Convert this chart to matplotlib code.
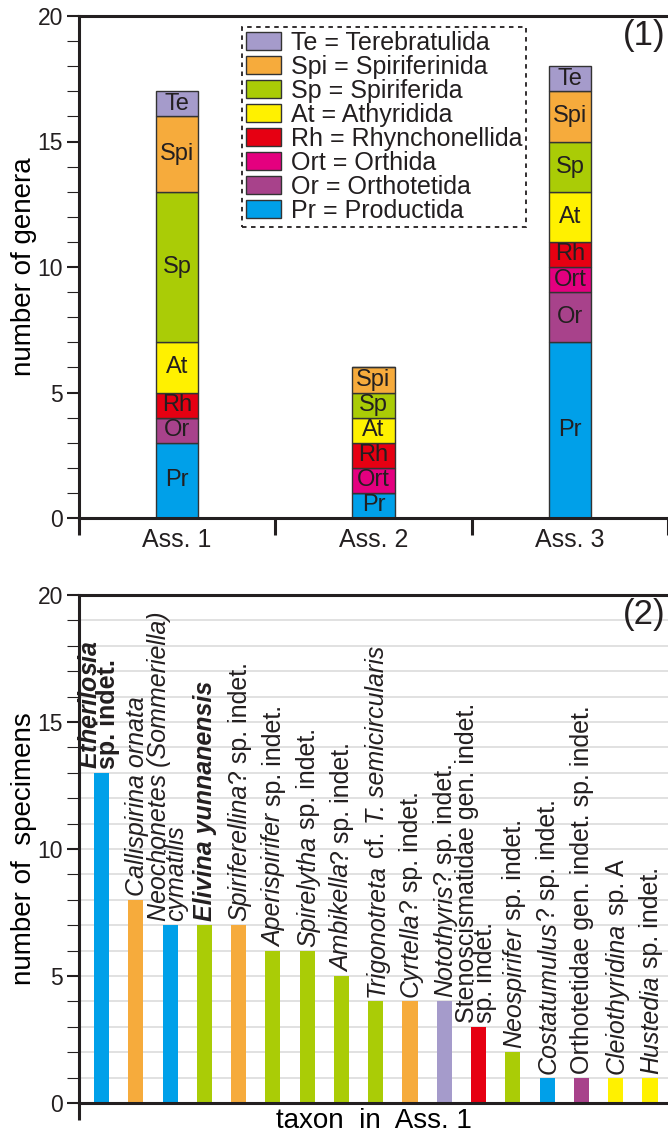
import numpy as np
import matplotlib
matplotlib.use('Agg')
import matplotlib.pyplot as plt
from matplotlib.patches import Patch
from matplotlib.transforms import offset_copy
from matplotlib.ticker import MultipleLocator

# ---------------- data ----------------
assemblages = ['Ass. 1', 'Ass. 2', 'Ass. 3']
order_abbr = ['Pr', 'Or', 'Ort', 'Rh', 'At', 'Sp', 'Spi', 'Te']          # stacking order bottom -> top
order_full = ['Productida', 'Orthotetida', 'Orthida', 'Rhynchonellida',
              'Athyridida', 'Spiriferida', 'Spiriferinida', 'Terebratulida']
order_colors = ['#00A0E9', '#A8428B', '#E4007F', '#E60012',
                '#FFF100', '#AACC06', '#F6AB3C', '#A59BCB']

pr_genera = [3, 1, 7]
or_genera = [1, 0, 2]
ort_genera = [0, 1, 1]
rh_genera = [1, 1, 1]
at_genera = [2, 1, 2]
sp_genera = [6, 1, 2]
spi_genera = [3, 1, 2]
te_genera = [1, 0, 1]
genera_series = [pr_genera, or_genera, ort_genera, rh_genera,
                 at_genera, sp_genera, spi_genera, te_genera]

# taxa of Ass. 1 : label pieces (text, style, weight) per line
taxon_labels = [
    [[('Etherilosia', 'italic', 'bold')], [('sp. indet.', 'normal', 'bold')]],
    [[('Callispirina ornata', 'italic', 'normal')]],
    [[('Neochonetes (Sommeriella)', 'italic', 'normal')], [('cymatilis', 'italic', 'normal')]],
    [[('Elivina yunnanensis', 'italic', 'bold')]],
    [[('Spiriferellina', 'italic', 'normal'), ('? sp. indet.', 'normal', 'normal')]],
    [[('Aperispirifer', 'italic', 'normal'), (' sp. indet.', 'normal', 'normal')]],
    [[('Spirelytha', 'italic', 'normal'), (' sp. indet.', 'normal', 'normal')]],
    [[('Ambikella', 'italic', 'normal'), ('? sp. indet.', 'normal', 'normal')]],
    [[('Trigonotreta', 'italic', 'normal'), (' cf.', 'normal', 'normal'),
      (' T. semicircularis', 'italic', 'normal')]],
    [[('Cyrtella', 'italic', 'normal'), ('? sp. indet.', 'normal', 'normal')]],
    [[('Notothyris', 'italic', 'normal'), ('? sp. indet.', 'normal', 'normal')]],
    [[('Stenoscismatidae gen. indet.', 'normal', 'normal')], [('sp. indet.', 'normal', 'normal')]],
    [[('Neospirifer', 'italic', 'normal'), (' sp. indet.', 'normal', 'normal')]],
    [[('Costatumulus', 'italic', 'normal'), ('? sp. indet.', 'normal', 'normal')]],
    [[('Orthotetidae gen. indet. sp. indet.', 'normal', 'normal')]],
    [[('Cleiothyridina', 'italic', 'normal'), (' sp. A', 'normal', 'normal')]],
    [[('Hustedia', 'italic', 'normal'), (' sp. indet.', 'normal', 'normal')]],
]
specimen_counts = [13, 8, 7, 7, 7, 6, 6, 5, 4, 4, 4, 3, 2, 1, 1, 1, 1]
taxon_orders = ['Pr', 'Spi', 'Pr', 'Sp', 'Spi', 'Sp', 'Sp', 'Sp', 'Sp',
                'Spi', 'Te', 'Rh', 'Sp', 'Pr', 'Or', 'At', 'At']

# ---------------- style ----------------
plt.rcParams['font.family'] = ['Liberation Sans', 'DejaVu Sans']
plt.rcParams['mathtext.fontset'] = 'custom'
plt.rcParams['mathtext.it'] = 'Liberation Sans:italic:bold'
plt.rcParams['mathtext.rm'] = 'Liberation Sans:bold'
plt.rcParams['mathtext.bf'] = 'Liberation Sans:bold'
TXT = '#231F20'
plt.rcParams['text.color'] = TXT
color_of = dict(zip(order_abbr, order_colors))

W, H = 668, 1133
fig = plt.figure(figsize=(W / 100, H / 100), dpi=100)
ax1 = fig.add_axes([79 / W, 1 - 518 / H, 589 / W, 502 / H])
ax2 = fig.add_axes([79 / W, 1 - 1103 / H, 589 / W, 508 / H])


def style_axes(ax):
    ax.spines['right'].set_visible(False)
    for s in ['left', 'bottom', 'top']:
        ax.spines[s].set_linewidth(2.2)
        ax.spines[s].set_color(TXT)
    ax.set_ylim(0, 20)
    ax.yaxis.set_major_locator(MultipleLocator(5))
    ax.yaxis.set_minor_locator(MultipleLocator(1))
    ax.tick_params(axis='y', which='major', length=8.5, width=1.5, pad=3,
                   labelsize=16.5, colors=TXT)
    ax.tick_params(axis='y', which='minor', length=8.5, width=0.8, colors=TXT)


# ---------------- panel (1) ----------------
x = np.arange(len(assemblages))
bottom = np.zeros(len(assemblages))
for abbr, vals, col in zip(order_abbr, genera_series, order_colors):
    vals = np.array(vals, dtype=float)
    bars = ax1.bar(x, vals, width=0.215, bottom=bottom, color=col,
                   edgecolor='#333333', linewidth=1.0, zorder=2)
    ax1.bar_label(bars, labels=[abbr if v > 0 else '' for v in vals],
                  label_type='center', fontsize=17, color=TXT)
    bottom += vals

style_axes(ax1)
ax1.set_xlim(-0.5, 2.5)
ax1.set_xticks([-0.5, 0.5, 1.5, 2.5])
ax1.set_xticklabels([])
ax1.tick_params(axis='x', which='major', length=12, width=2.2, colors=TXT)
ax1.set_xticks(x, minor=True)
ax1.set_xticklabels(assemblages, minor=True, fontsize=18)
ax1.tick_params(axis='x', which='minor', length=0, pad=7, colors=TXT)
ax1.set_ylabel('number of genera', fontsize=20)
ax1.yaxis.set_label_coords(-0.072, 0.5)
ax1.text(0.995, 0.995, '(1)', transform=ax1.transAxes, ha='right', va='top', fontsize=25)

handles = [Patch(facecolor=c, edgecolor='#333333', linewidth=1.0) for c in order_colors][::-1]
labels = [f'{a} = {f}' for a, f in zip(order_abbr, order_full)][::-1]
leg = ax1.legend(handles, labels, loc='upper left', bbox_to_anchor=(0.2767, 0.978),
                 borderaxespad=0, fontsize=18, frameon=True, fancybox=False,
                 edgecolor=TXT, framealpha=1, handlelength=1.4, handleheight=0.68,
                 handletextpad=0.4, labelspacing=0.0, borderpad=0.15, labelcolor=TXT)
leg.get_frame().set_linestyle((0, (2.5, 2.5)))
leg.get_frame().set_linewidth(1.3)

# ---------------- panel (2) ----------------
xb = np.arange(len(specimen_counts))
ax2.bar(xb, specimen_counts, width=0.44,
        color=[color_of[o] for o in taxon_orders], zorder=2)
style_axes(ax2)
x_left = -0.656
ax2.set_xlim(x_left, 16.526)
ax2.set_axisbelow(True)
ax2.grid(axis='y', which='both', color='#DEDEDE', linewidth=1.3)
ax2.set_xticks([x_left])
ax2.set_xticklabels([])
ax2.tick_params(axis='x', which='major', length=12, width=2.2, colors=TXT)
ax2.set_ylabel('number of  specimens', fontsize=20)
ax2.yaxis.set_label_coords(-0.072, 0.5)
ax2.set_xlabel('taxon  in  Ass. 1', fontsize=20)
ax2.xaxis.set_label_coords(0.5, -0.01)
ax2.text(0.995, 0.995, '(2)', transform=ax2.transAxes, ha='right', va='top', fontsize=25)

renderer = fig.canvas.get_renderer()
FS = 18
for xi, (val, lines) in enumerate(zip(specimen_counts, taxon_labels)):
    if len(lines) == 1:
        # one line, possibly mixed styles: chain the pieces upward
        dy = 4
        for s, st, wt in lines[0]:
            tr = offset_copy(ax2.transData, fig=fig, x=8, y=dy, units='dots')
            t = ax2.text(xi, val, s, transform=tr, rotation=90, rotation_mode='anchor',
                         ha='left', va='baseline', fontsize=FS, style=st, weight=wt,
                         color=TXT, zorder=3)
            dy += t.get_window_extent(renderer).height
    else:
        # two lines in one text; a line whose style differs from the last one
        # is written with the (bold-italic) mathtext font
        last_style, last_weight = lines[-1][0][1], lines[-1][0][2]
        parts = []
        for pieces in lines:
            s, st, wt = pieces[0]
            parts.append(f'${s}$' if st != last_style else s)
        tr = offset_copy(ax2.transData, fig=fig, x=19.5, y=4, units='dots')
        ax2.text(xi, val, '\n'.join(parts), transform=tr, rotation=90,
                 rotation_mode='anchor', ha='left', va='baseline', fontsize=FS,
                 style=last_style, weight=last_weight, linespacing=0.68,
                 multialignment='left', color=TXT, zorder=3)

fig.savefig('out.png', dpi=100)
